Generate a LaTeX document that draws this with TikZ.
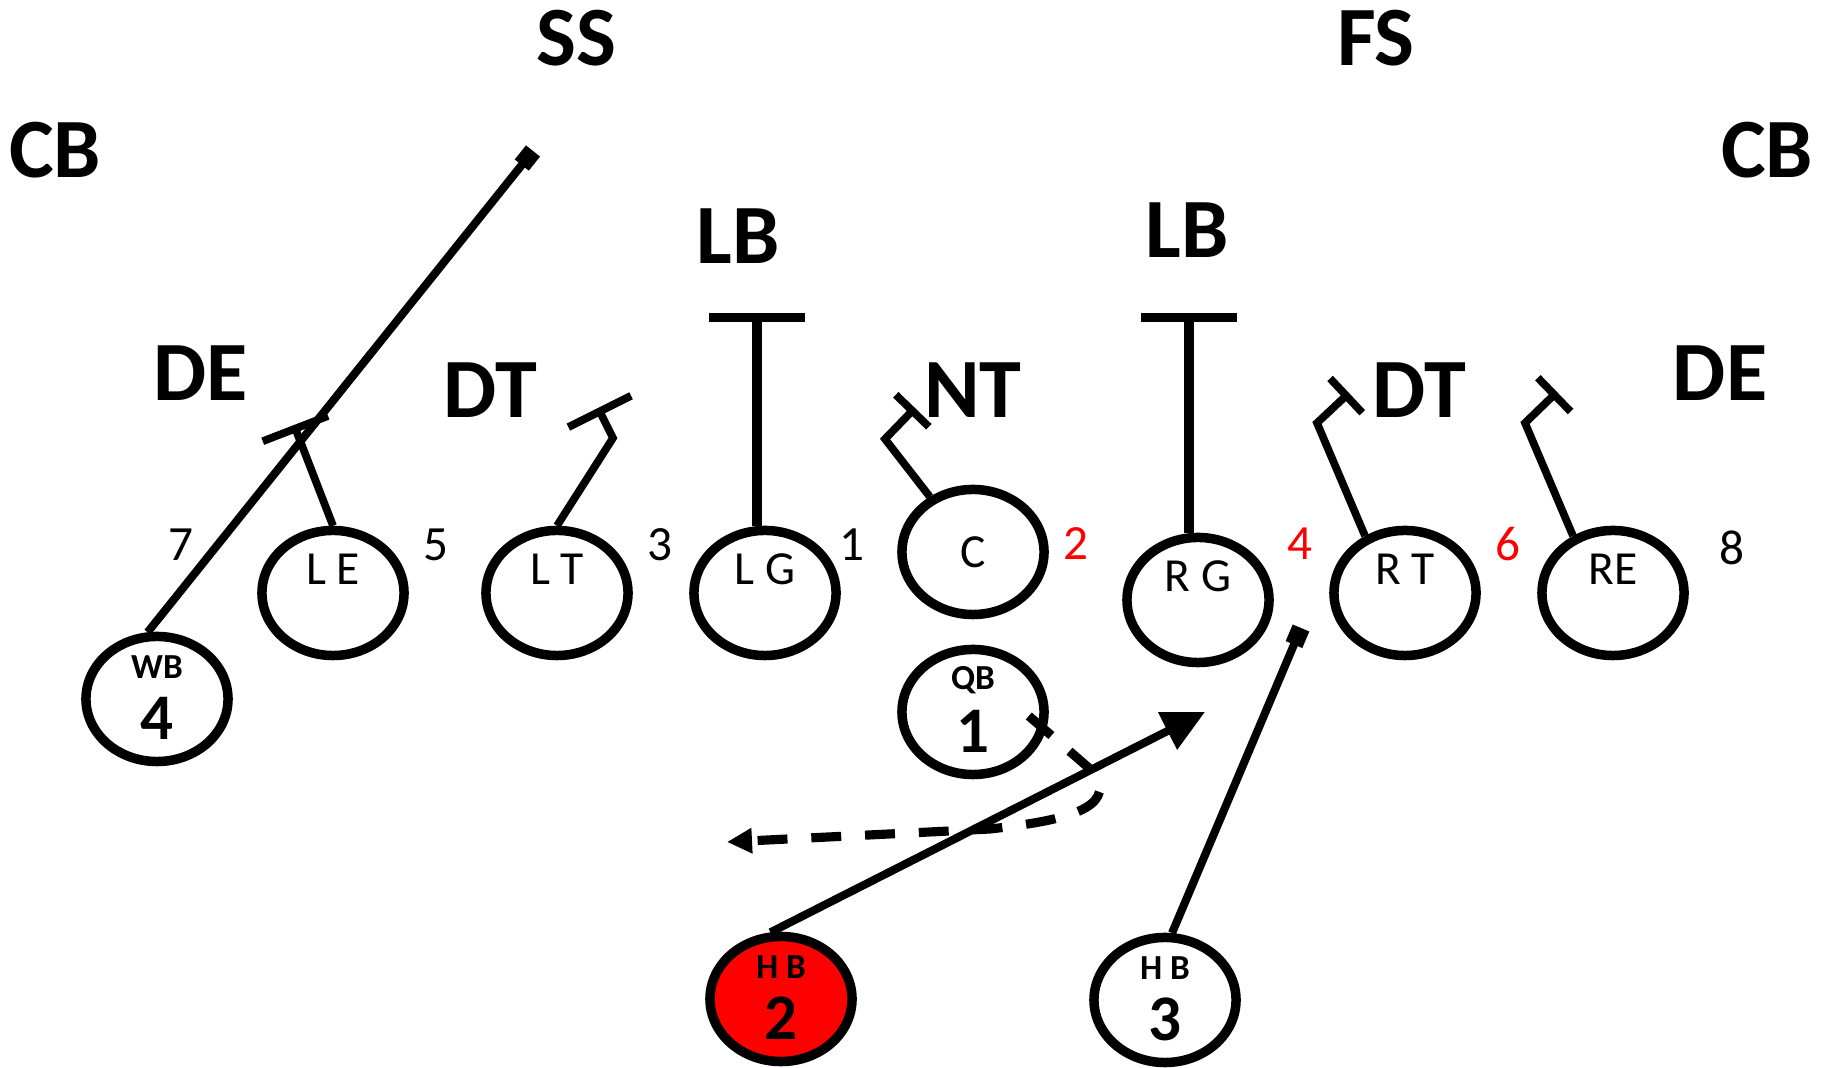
\documentclass[tikz,border=0pt]{standalone}
\usepackage{fontspec}
\setmainfont{Carlito}
\usetikzlibrary{arrows.meta,shapes.geometric}

\tikzset{
  player/.style={ellipse, draw, line width=2.7pt, minimum width=1.42cm, minimum height=1.25cm, inner sep=0pt},
  tag/.style={font=\fontsize{13.5}{14}\selectfont, inner sep=0pt},
  backtag/.style={font=\fontsize{10}{10}\selectfont\bfseries, inner sep=0pt},
  num/.style={font=\fontsize{18.5}{18}\selectfont\bfseries, inner sep=0pt},
  front/.style={label={[tag, yshift=6.8pt]center:#1}},
  back/.style 2 args={label={[backtag, yshift=9pt]center:#1}, label={[num, yshift=-5.4pt]center:#2}},
  def/.style={font=\fontsize{24}{24}\selectfont\bfseries, inner sep=0pt},
  gap/.style={font=\fontsize{14}{14}\selectfont, inner sep=0pt},
  block/.style={line width=2.2pt, -{Bar[width=#1]}},
  route/.style={line width=2.3pt},
}

\begin{document}
\begin{tikzpicture}[x=0.01cm, y=-0.01cm]
\useasboundingbox (0,0) rectangle (1833,1068);

% defense
\node[def] (ss) at (576,38) {SS};
\node[def] (fs) at (1376,38) {FS};
\node[def] (cbl) at (55,150) {CB};
\node[def] (cbr) at (1767,150) {CB};
\node[def] (lbl) at (738,236) {LB};
\node[def] (lbr) at (1187,230) {LB};
\node[def] (del) at (201,373) {DE};
\node[def] (dtl) at (490,390) {DT};
\node[def] (nt) at (973,390) {NT};
\node[def] (dtr) at (1419,390) {DT};
\node[def] (der) at (1720,373) {DE};

% line and backs
\node[player, front={L E}] (le) at (333,593) {};
\node[player, front={L T}] (lt) at (557,593) {};
\node[player, front={L G}] (lg) at (765,593) {};
\node[player, tag] (c) at (973,552) {C};
\node[player, front={R G}] (rg) at (1198,600) {};
\node[player, front={R T}] (rt) at (1405,593) {};
\node[player, front={RE}] (re) at (1613,593) {};
\node[player, back={WB}{4}] (wb) at (157,699) {};
\node[player, back={QB}{1}] (qb) at (973,712) {};
\node[player, back={H B}{2}, fill=red] (hb2) at (781,999) {};
\node[player, back={H B}{3}] (hb3) at (1165,1000) {};

% hole numbers
\foreach \x/\y/\n/\col in {181/545/7/black, 436/545/5/black, 660/545/3/black, 852/545/1/black,
                           1076/544/2/red, 1300/544/4/red, 1508/544/6/red, 1732/548/8/black}
  \node[gap, text=\col] (h\n) at (\x,\y) {\n};

% blocks
\coordinate (leblk) at (294,425);
\coordinate (ltkink) at (613,438);
\coordinate (ltblk) at (598,408);
\coordinate (lgblk) at (757,313);
\coordinate (ckink) at (885,439);
\coordinate (cblk) at (915,408);
\coordinate (rgblk) at (1189,313);
\coordinate (rtkink) at (1317,423);
\coordinate (rtblk) at (1349,393);
\coordinate (rekink) at (1525,423);
\coordinate (reblk) at (1557,392);

\draw[block=0.7cm] (le.north) -- (leblk);
\draw[block=0.7cm] (lt.north) -- (ltkink) -- (ltblk);
\draw[block=0.96cm, line width=2.6pt] (lg.north -| lgblk) -- (lgblk);
\draw[block=0.46cm] (c.128) -- (ckink) -- (cblk);
\draw[block=0.96cm, line width=2.6pt] (rg.north -| rgblk) -- (rgblk);
\draw[block=0.47cm] (rt.125) -- (rtkink) -- (rtblk);
\draw[block=0.47cm] (re.125) -- (rekink) -- (reblk);

% routes
\coordinate (wbend) at (533,151);
\coordinate (hb3end) at (1301,628);
\coordinate (hb2end) at (1205,712);
\coordinate (qbturn) at (1097,775);
\coordinate (qbmid) at (990,829);
\coordinate (qbend) at (727,842);

\draw[route, -{Square[length=0.18cm]}] (wb.98) -- (wbend);
\draw[route, -{Square[length=0.18cm]}] (hb3.84) -- (hb3end);
\draw[route, -{Triangle[length=0.42cm, width=0.4cm]}] (hb2.99) -- (hb2end);
\draw[route, line width=2.6pt, dash pattern=on 8.5pt off 6.8pt, -{Triangle[length=0.25cm, width=0.24cm]}]
  ([shift={(-20,4)}]qb.east) -- (qbturn) .. controls (1112,808) and (1070,820) .. (qbmid) -- (qbend);
\end{tikzpicture}
\end{document}
